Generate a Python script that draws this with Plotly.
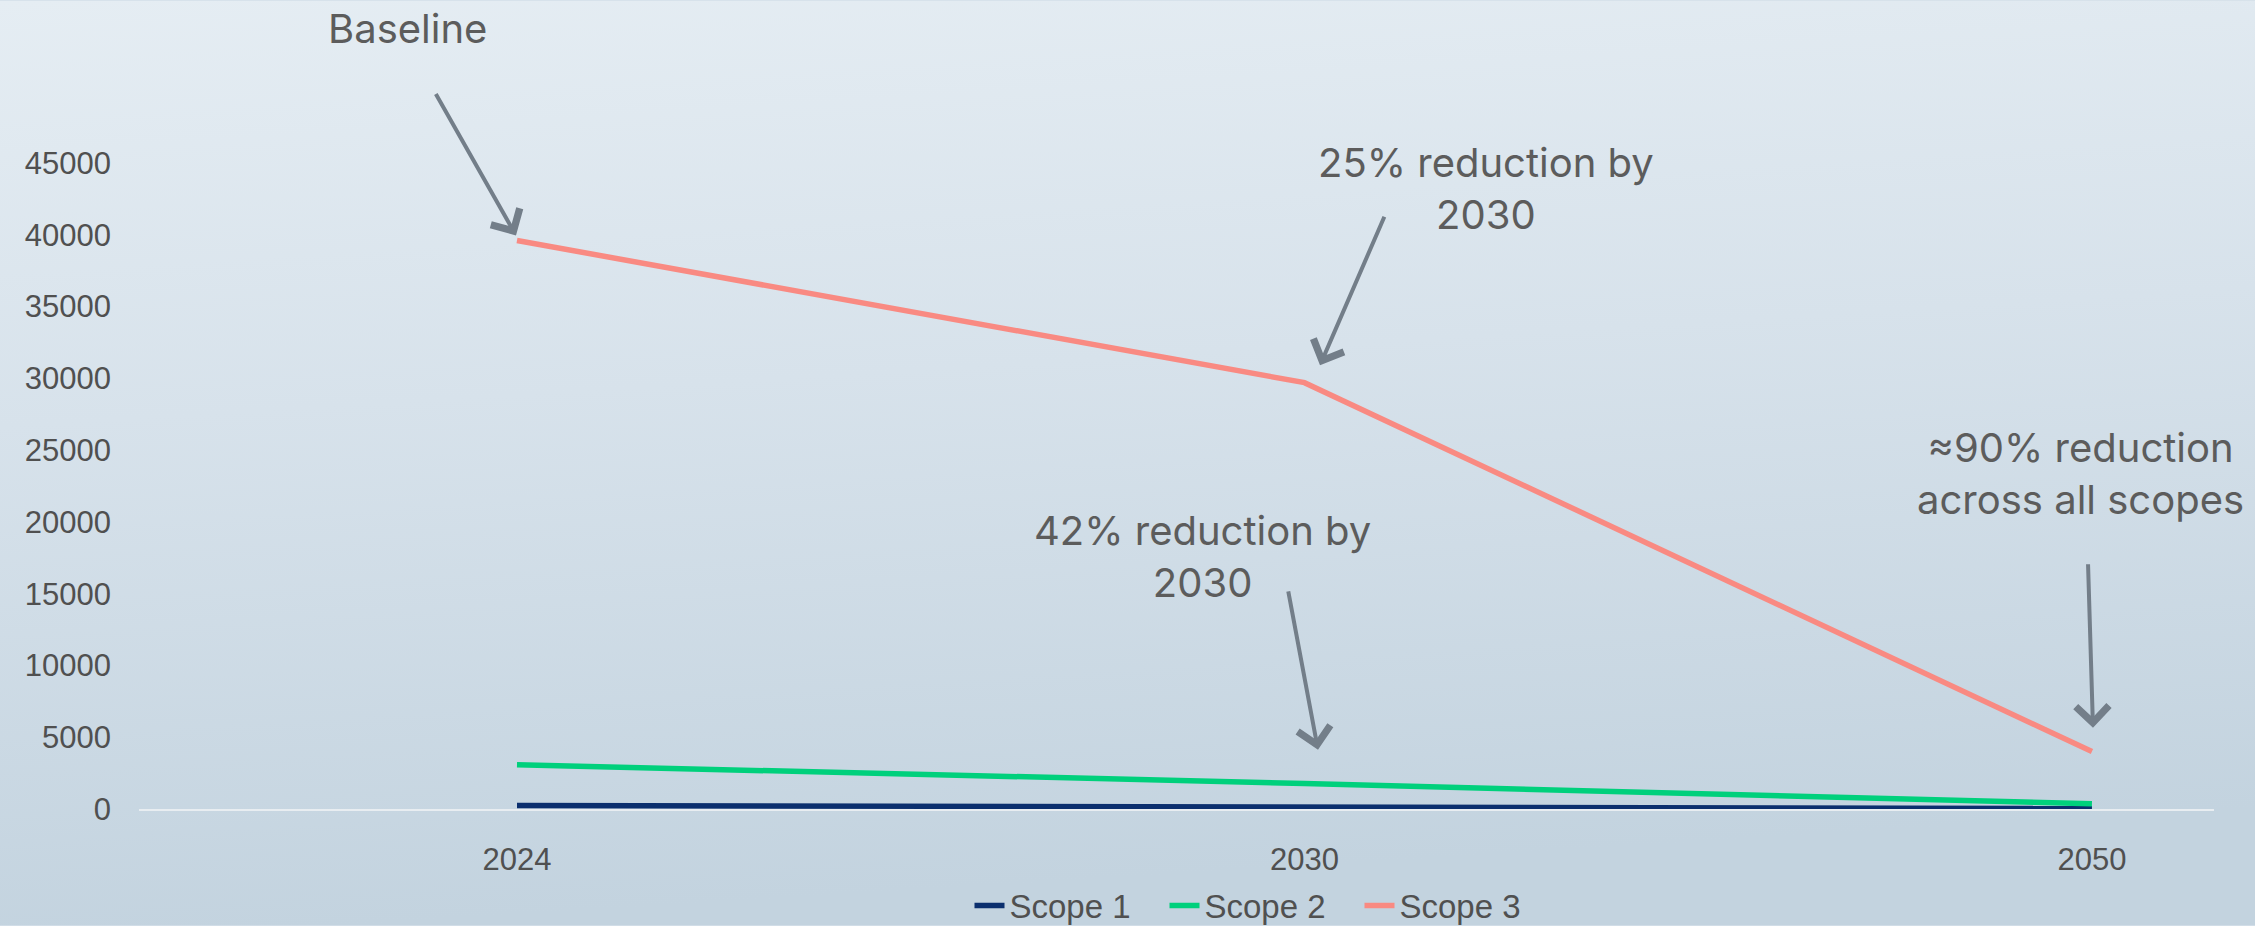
import base64
import plotly.graph_objects as go

# ---- data ----
years = ["2024", "2030", "2050"]
scope1 = [250, 140, 30]
scope2 = [3080, 1780, 360]
scope3 = [39600, 29700, 4000]
series_names = ["Scope 1", "Scope 2", "Scope 3"]
series_colors = ["#0b2f6e", "#00d07c", "#f98a82"]
y_ticks = [0, 5000, 10000, 15000, 20000, 25000, 30000, 35000, 40000, 45000]

W, H = 2255, 926
L, R, T, B = 139, 41, 162.5, 116.7
PW = W - L - R
PH = H - T - B


def px2paper(px, py):
    return (px - L) / PW, (H - B - py) / PH


fig = go.Figure()
for name, vals, col in zip(series_names, [scope1, scope2, scope3], series_colors):
    fig.add_trace(go.Scatter(x=years, y=vals, name=name, mode="lines",
                             line=dict(color=col, width=5.5)))

# gradient background
svg = f'''<svg xmlns="http://www.w3.org/2000/svg" width="{W}" height="{H}" preserveAspectRatio="none">
<defs><linearGradient id="g" x1="0" y1="0" x2="0.15" y2="1">
<stop offset="0" stop-color="#e5edf3"/><stop offset="0.45" stop-color="#d7e2eb"/>
<stop offset="1" stop-color="#c3d3df"/></linearGradient></defs>
<rect width="100%" height="100%" fill="url(#g)"/></svg>'''
src = "data:image/svg+xml;base64," + base64.b64encode(svg.encode()).decode()
fig.add_layout_image(dict(source=src, xref="paper", yref="paper",
                          x=-L / PW, y=1 + T / PH, sizex=W / PW, sizey=H / PH,
                          sizing="stretch", xanchor="left", yanchor="top", layer="below"))

text_font = dict(family="Inter, Lato, sans-serif", size=40, color="#5c5c5c")
texts = [
    ("Baseline", 407, 28),
    ("25% reduction by<br>2030", 1486, 188),
    ("42% reduction by<br>2030", 1202, 556),
    ("≈90% reduction<br>across all scopes", 2080, 473),
]
for t, cx, cy in texts:
    xp, yp = px2paper(cx, cy)
    fig.add_annotation(text=t, x=xp, y=yp, xref="paper", yref="paper",
                       showarrow=False, font=text_font, align="center",
                       xanchor="center", yanchor="middle")

arrows = [  # (head_x, head_y, tail_x, tail_y)
    (516, 235, 435, 92),
    (1320, 365, 1385, 215),
    (1318, 750, 1288, 590),
    (2093, 728, 2088, 563),
]
for hx, hy, tx, ty in arrows:
    xp, yp = px2paper(hx, hy)
    fig.add_annotation(text="", x=xp, y=yp, xref="paper", yref="paper",
                       ax=tx - hx, ay=ty - hy, axref="pixel", ayref="pixel",
                       showarrow=True, arrowhead=4, arrowsize=1.6, arrowwidth=4,
                       arrowcolor="#737e89")

axis_font = dict(family="Liberation Sans, Arial", size=31, color="#505050")
fig.update_layout(
    width=W, height=H,
    margin=dict(l=L, r=R, t=T, b=B, autoexpand=False),
    paper_bgcolor="#d6e1ea",
    plot_bgcolor="rgba(0,0,0,0)",
    showlegend=True,
    legend=dict(orientation="h", x=px2paper(1262, 0)[0], xanchor="center",
                y=px2paper(0, 906)[1], yanchor="middle",
                font=dict(family="Liberation Sans, Arial", size=33, color="#505050"),
                bgcolor="rgba(0,0,0,0)", entrywidth=150, tracegroupgap=0),
    xaxis=dict(type="category", range=[-0.48, 2.155], showgrid=False, zeroline=False,
               showline=True, linecolor="#e8edf1", linewidth=2,
               tickfont=axis_font, ticks="", ticklabelstandoff=22),
    yaxis=dict(range=[0, 45000], tickvals=y_ticks, tickformat="d", showgrid=False,
               zeroline=False, showline=False,
               tickfont=axis_font, ticks="", ticklabelstandoff=27),
)

fig.write_html("out.html")
